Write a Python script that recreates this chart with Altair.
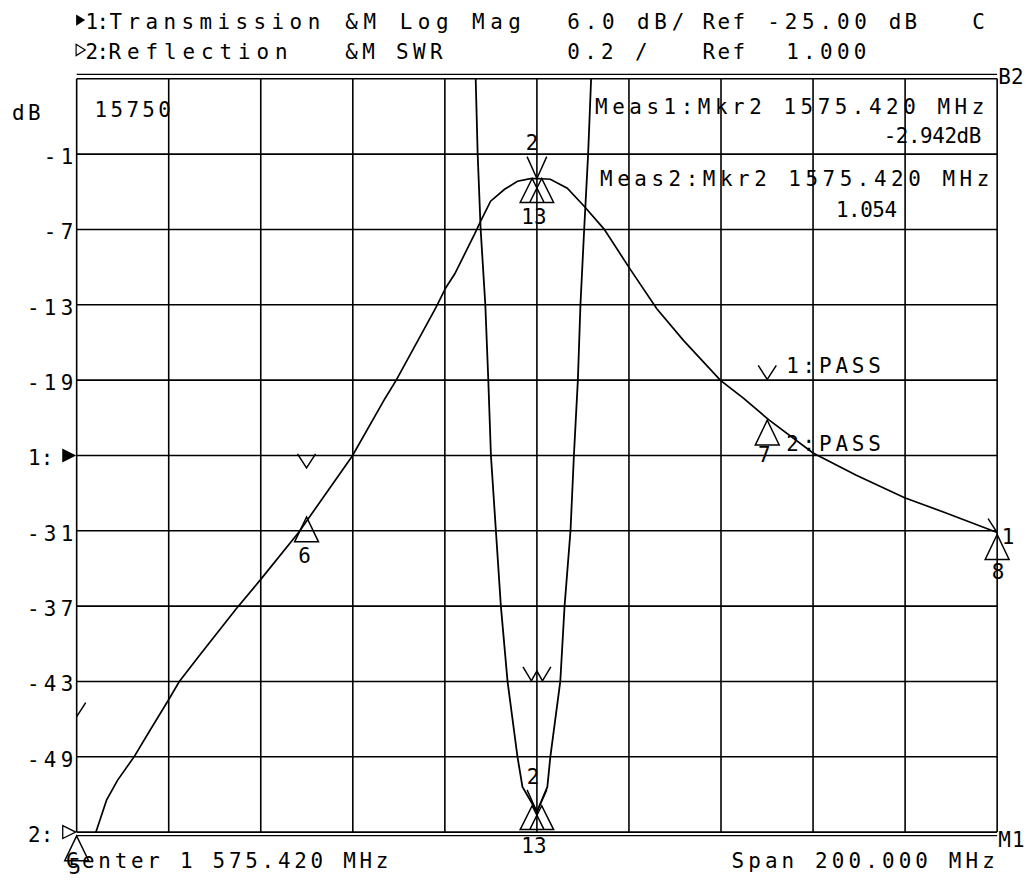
import altair as alt
import pandas as pd

F_START, F_STOP = 1475.42, 1675.42          # center 1575.420 MHz, span 200 MHz

# Trace 1: Transmission, log mag (dB)
freq_t1 = [1475.42, 1479.53, 1481.91, 1484.29, 1487.96, 1491.20, 1495.53, 1497.69,
           1502.01, 1510.01, 1515.42, 1523.64, 1535.31, 1542.45, 1544.83, 1553.47,
           1555.63, 1557.58, 1561.90, 1563.20, 1565.36, 1568.39, 1571.20, 1574.01,
           1575.42, 1578.34, 1582.02, 1585.69, 1590.02, 1595.64, 1601.47, 1607.31,
           1615.31, 1620.28, 1625.90, 1635.42, 1644.71, 1655.31, 1664.17, 1675.42]
db_t1 = [-59.6, -55.08, -52.46, -50.88, -48.97, -46.99, -44.38, -43.03,
         -40.97, -37.25, -34.87, -31.14, -25.04, -20.44, -19.02, -13.23,
         -11.64, -10.53, -7.36, -6.33, -4.75, -3.80, -3.16, -2.95,
         -2.942, -3.00, -3.72, -5.15, -6.97, -10.14, -13.31, -15.85,
         -19.02, -20.44, -22.19, -24.80, -26.55, -28.37, -29.56, -31.14]

# Trace 2: Reflection, SWR
freq_t2 = [1561.90, 1562.12, 1562.55, 1563.20, 1564.21, 1564.86, 1565.43, 1566.51,
           1567.59, 1569.04, 1571.20, 1572.28, 1575.42, 1577.69, 1578.34, 1580.50,
           1581.43, 1582.72, 1583.46, 1584.32, 1584.88, 1585.69, 1586.55, 1587.20,
           1587.42]
swr_t2 = [3.10, 3.00, 2.80, 2.60, 2.40, 2.20, 2.00, 1.80,
          1.60, 1.40, 1.20, 1.12, 1.054, 1.12, 1.20, 1.40,
          1.60, 1.80, 2.00, 2.20, 2.40, 2.60, 2.80, 3.00,
          3.10]

# grid / tick values
grid_db = [5, -1, -7, -13, -19, -25, -31, -37, -43, -49, -55]
grid_freq = [1475.42, 1495.42, 1515.42, 1535.42, 1555.42, 1575.42,
             1595.42, 1615.42, 1635.42, 1655.42, 1675.42]
tick_db = [-1, -7, -13, -19, -25, -31, -37, -43, -49, -55]
tick_text = ["-1", "-7", "-13", "-19", "1:", "-31", "-37", "-43", "-49", "2:"]

# markers (frequency, value)
small_v_freq = [1525.37, 1625.47, 1475.42, 1675.42]
small_v_db = [-25.99, -18.94, -45.8, -31.14]
big_v_db_freq, big_v_db = [1575.42], [-2.942]
big_v_swr_freq, big_v_swr = [1575.42], [1.054]
w_freq, w_db = [1575.42], [-42.95]
tri_freq = [1525.37, 1625.47, 1675.42, 1475.42]
tri_db = [-29.9, -22.19, -31.3, -55.3]
dtri_db_freq, dtri_db = [1575.42], [-2.942]
dtri_swr_freq, dtri_swr = [1575.42], [1.07]

# ---------------- layout ----------------
W, H = 925, 757
OX, OY = 77, 77          # plot origin on the page
FONT = "DejaVu Sans Mono"
FS = 21
INK = "black"

xs = alt.Scale(domain=[F_START, F_STOP])
ydb = alt.Scale(domain=[-55, 5])
yswr = alt.Scale(domain=[1, 3])


def X(field):
    return alt.X(field, type="quantitative", scale=xs, axis=None)


def Ydb(field):
    return alt.Y(field, type="quantitative", scale=ydb, axis=None)


def Yswr(field):
    return alt.Y(field, type="quantitative", scale=yswr, axis=None)


def PX(field):
    return alt.X(field, type="quantitative", scale=None, axis=None)


def PY(field):
    return alt.Y(field, type="quantitative", scale=None, axis=None)


def spaced(segments):
    rows = []
    for text, x0, base, pitch in segments:
        for i, ch in enumerate(text):
            if ch != " ":
                rows.append({"px": x0 + i * pitch - OX, "py": base - OY, "ch": ch})
    return pd.DataFrame(rows)


layers = []

# grid
hgrid = pd.DataFrame({"db": grid_db})
vgrid = pd.DataFrame({"f": grid_freq})
layers.append(alt.Chart(hgrid).mark_rule(color=INK, strokeWidth=1.6).encode(y=Ydb("db")))
layers.append(alt.Chart(vgrid).mark_rule(color=INK, strokeWidth=1.6).encode(x=X("f")))
layers.append(alt.Chart(pd.DataFrame({"db": [5]})).mark_rule(color=INK, strokeWidth=1.3, yOffset=-4.5)
              .encode(y=Ydb("db")))
layers.append(alt.Chart(pd.DataFrame({"db": [-55]})).mark_rule(color=INK, strokeWidth=1.3, yOffset=3.5)
              .encode(y=Ydb("db")))

# traces
t1 = pd.DataFrame({"f": freq_t1, "v": db_t1})
t2 = pd.DataFrame({"f": freq_t2, "v": swr_t2})
layers.append(alt.Chart(t1).mark_line(color=INK, strokeWidth=1.7, clip=True)
              .encode(x=X("f"), y=Ydb("v")))
layers.append(alt.Chart(t2).mark_line(color=INK, strokeWidth=1.8, clip=True)
              .encode(x=X("f"), y=Yswr("v")))

# marker shapes
TRI = "M0,0L-0.48,1L0.48,1Z"
DTRI = "M-0.2,0L-0.7,1L0.3,1ZM0.2,0L-0.3,1L0.7,1Z"
BIGV = "M-0.45,-1L0,0L0.45,-1"
SMALLV = "M-0.65,-1L0,0L0.65,-1"
WSH = "M-1,-1L-0.4,0L0,-0.7L0.4,0L1,-1"


def pts(freqs, vals, yfun, shape, size, clip=False):
    df = pd.DataFrame({"f": freqs, "v": vals})
    return alt.Chart(df).mark_point(shape=shape, size=size, filled=False, color=INK,
                                    strokeWidth=1.5, opacity=1, clip=clip).encode(
        x=X("f"), y=yfun("v"))


layers.append(pts(small_v_freq, small_v_db, Ydb, SMALLV, 784, clip=True))
layers.append(pts(w_freq, w_db, Ydb, WSH, 784))
layers.append(pts(big_v_db_freq, big_v_db, Ydb, BIGV, 1936))
layers.append(pts(big_v_swr_freq, big_v_swr, Yswr, BIGV, 1936))
layers.append(pts(tri_freq, tri_db, Ydb, TRI, 2500))
layers.append(pts(dtri_db_freq, dtri_db, Ydb, DTRI, 2304))
layers.append(pts(dtri_swr_freq, dtri_swr, Yswr, DTRI, 2304))


# marker number labels
def lab(freq, val, yfun, text, dx, dy):
    df = pd.DataFrame({"f": [freq], "v": [val], "t": [text]})
    return alt.Chart(df).mark_text(font=FONT, fontSize=FS, color=INK, align="center",
                                   baseline="alphabetic", dx=dx, dy=dy).encode(
        x=X("f"), y=yfun("v"), text="t:N")


layers.append(lab(1575.42, -2.942, Ydb, "2", -5, -29))
layers.append(lab(1575.42, -2.942, Ydb, "13", -3, 46))
layers.append(lab(1575.42, 1.054, Yswr, "2", -4, -28))
layers.append(lab(1575.42, 1.07, Yswr, "13", -3, 47))
for fq, v, t, dx, dy in [(1525.37, -29.9, "6", -2, 46), (1625.47, -22.19, "7", -3, 42),
                         (1675.42, -31.3, "8", 1, 45), (1475.42, -55.3, "5", -2, 38),
                         (1675.42, -31.14, "1", 11, 12)]:
    layers.append(lab(fq, v, Ydb, t, dx, dy))

# y tick labels, spaced characters, placed through the dB scale
rows = []
for v, t in zip(tick_db, tick_text):
    pitch = 13 if t.endswith(":") else 17
    x0 = 28 if t.endswith(":") else 73 - 12 - (len(t) - 1) * pitch
    for i, ch in enumerate(t):
        rows.append({"v": v, "px": x0 + i * pitch - OX, "ch": ch})
layers.append(alt.Chart(pd.DataFrame(rows)).mark_text(
    font=FONT, fontSize=FS, color=INK, align="left", baseline="alphabetic", dy=10).encode(
    x=PX("px"), y=Ydb("v"), text="ch:N"))

# reference-position arrows next to "1:" and "2:"
ARR = "M-1,-1L1,0L-1,1Z"
layers.append(alt.Chart(pd.DataFrame({"v": [-25], "px": [69.5 - OX]})).mark_point(
    shape=ARR, size=196, filled=True, color=INK, opacity=1).encode(x=PX("px"), y=Ydb("v")))
layers.append(alt.Chart(pd.DataFrame({"v": [-55], "px": [69.5 - OX]})).mark_point(
    shape=ARR, size=169, filled=False, color=INK, strokeWidth=1.3, opacity=1).encode(
    x=PX("px"), y=Ydb("v")))

# header arrows
HARR = "M-0.8,-1L0.8,0L-0.8,1Z"
layers.append(alt.Chart(pd.DataFrame({"px": [81 - OX], "py": [18 - OY]})).mark_point(
    shape=HARR, size=130, filled=True, color=INK, opacity=1).encode(x=PX("px"), y=PY("py")))
layers.append(alt.Chart(pd.DataFrame({"px": [81 - OX], "py": [48 - OY]})).mark_point(
    shape=HARR, size=130, filled=False, color=INK, strokeWidth=1.2, opacity=1).encode(
    x=PX("px"), y=PY("py")))

# annotation text on the instrument screen
segments = [
    ("1", 86, 27, 12), (":", 97, 27, 12), ("Transmission", 110, 27, 18.1),
    ("&M Log Mag", 347, 27, 18.2), ("6.0 dB/", 570, 27, 17.5), ("Ref", 706, 27, 15),
    ("-25.00", 771, 27, 17.5), ("dB", 893, 27, 16), ("C", 977, 27, 16),
    ("2", 86, 57, 12), (":", 97, 57, 12), ("Reflection", 109, 57, 18.6),
    ("&M SWR", 347, 57, 17), ("0.2 /", 570, 57, 17), ("Ref", 706, 57, 15),
    ("1.000", 790, 57, 17),
    ("dB", 12, 118, 16), ("15750", 95, 115, 16),
    ("Meas1:Mkr2 1575.420 MHz", 598, 112, 17.2), ("-2.942dB", 888, 142, 12.2),
    ("Meas2:Mkr2 1575.420 MHz", 603, 185, 17.2), ("1.054", 840, 216, 12.2),
    ("1:PASS", 790, 373, 16.5), ("2:PASS", 790, 451, 16.5),
    ("Center 1 575.420 MHz", 66, 870, 16.4), ("Span 200.000 MHz", 735, 870, 16.8),
    ("M1", 1003, 849, 14), ("B2", 1003, 82, 13),
]
layers.append(alt.Chart(spaced(segments)).mark_text(
    font=FONT, fontSize=FS, color=INK, align="left", baseline="alphabetic").encode(
    x=PX("px"), y=PY("py"), text="ch:N"))

chart = alt.layer(*layers).resolve_scale(x="independent", y="independent").properties(
    width=W, height=H,
    autosize=alt.AutoSizeParams(type="none"),
    padding={"left": 69, "top": 69, "right": 30, "bottom": 48},
    background="white",
).configure_view(stroke=None)

chart.save("out.html", embed_options={"renderer": "svg", "actions": False})
